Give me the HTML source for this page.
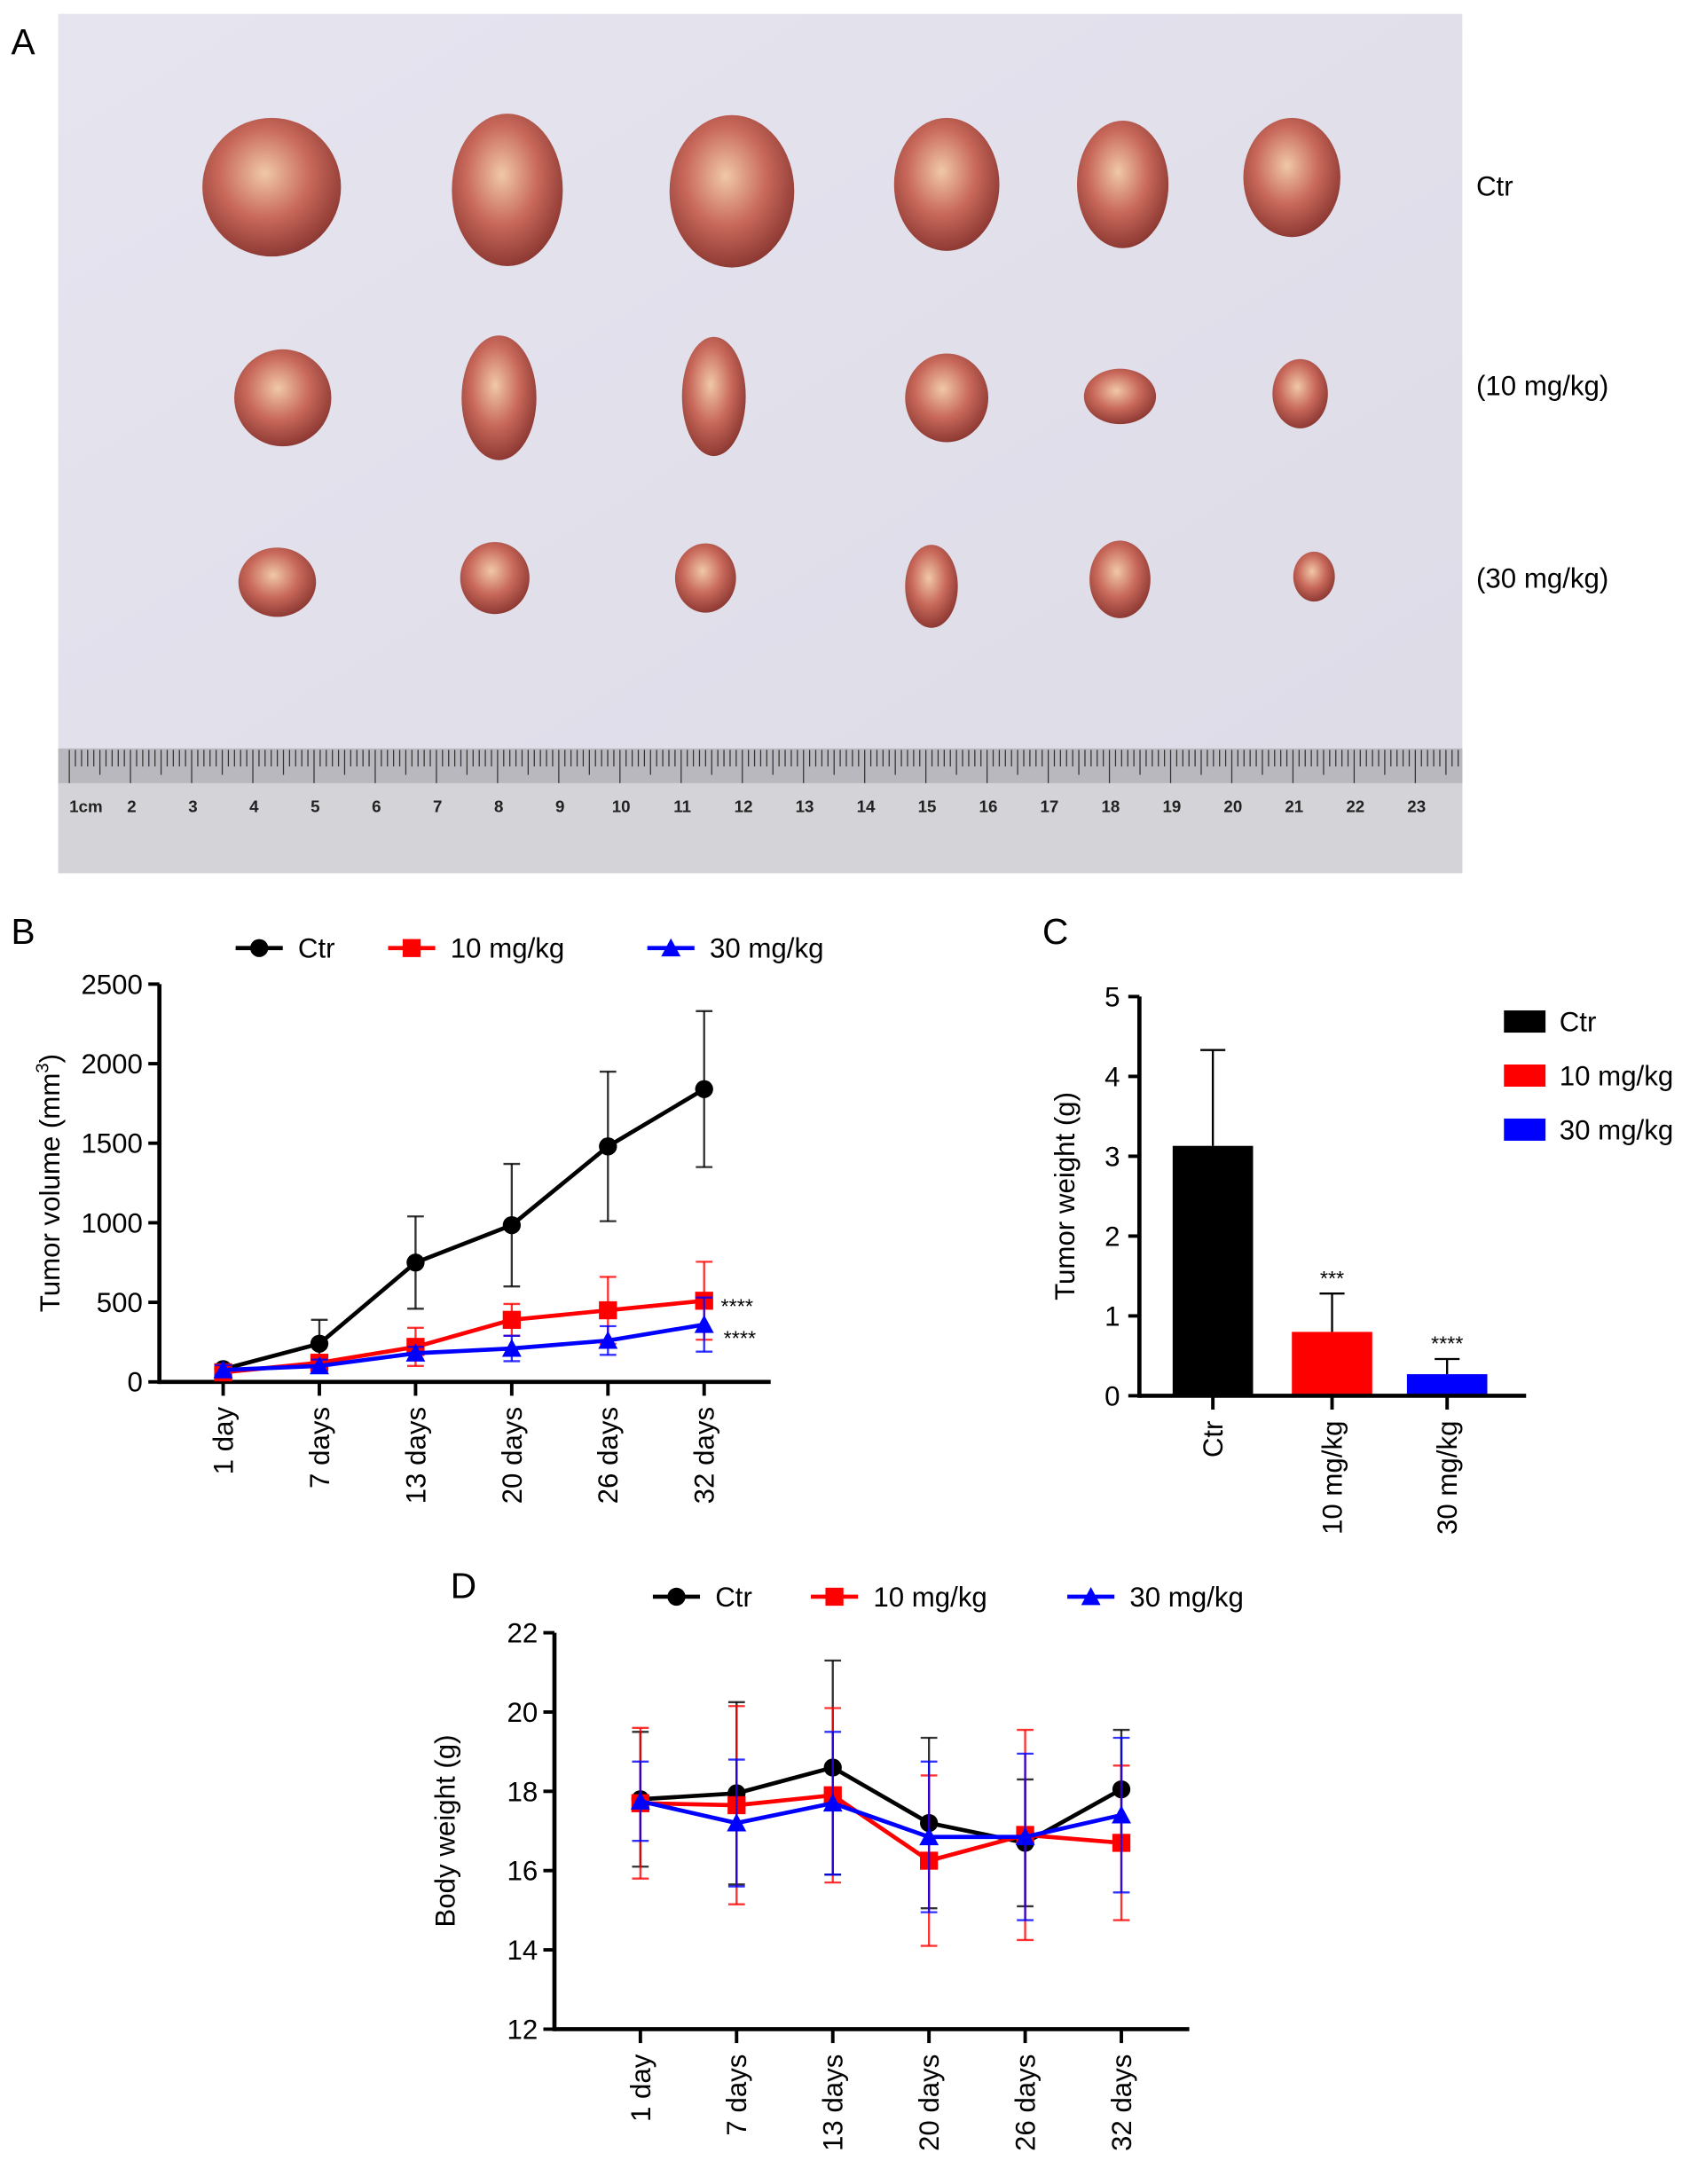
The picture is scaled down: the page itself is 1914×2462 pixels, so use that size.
<!DOCTYPE html>
<html><head><meta charset="utf-8"><style>
html,body{margin:0;padding:0;background:#fff;}
svg{display:block;font-family:"Liberation Sans",Arial,sans-serif;}
</style></head><body>
<svg id="fig" width="1914" height="2462" viewBox="0 0 1225 1575.7" xmlns="http://www.w3.org/2000/svg">
<defs>
<radialGradient id="tum" cx="45%" cy="40%" r="60%">
<stop offset="0" stop-color="#f0c8a8"/><stop offset="0.55" stop-color="#c8685a"/><stop offset="1" stop-color="#8e3a34"/>
</radialGradient>
<linearGradient id="bgA" x1="0" y1="0" x2="1" y2="1"><stop offset="0" stop-color="#e6e4ef"/><stop offset="1" stop-color="#dcdbe6"/></linearGradient>
</defs>
<g id="panelA">
<rect x="42" y="10" width="1013" height="620" fill="url(#bgA)"/>
<g id="tumors"></g>
<rect x="42" y="540" width="1013" height="90" fill="#d4d4d8"/>
<rect x="42" y="540" width="1013" height="25" fill="#b8b8be"/>
<g id="ruler"></g>
<text x="1065" y="141" font-size="20">Ctr</text>
<text x="1065" y="285" font-size="20">(10 mg/kg)</text>
<text x="1065" y="424" font-size="20">(30 mg/kg)</text>
</g>
<text x="8" y="39" font-size="26">A</text>
<text x="8" y="681" font-size="26">B</text>
<text x="752" y="681" font-size="26">C</text>
<text x="325" y="1153" font-size="26">D</text>
<g id="chartB"></g>
<g id="chartC"></g>
<g id="chartD"></g>
</svg>
<script>
// ---- data ----
const days = ["1 day","7 days","13 days","20 days","26 days","32 days"];
const volCtr = [80,240,750,985,1480,1840];
const volCtrErr = [30,150,290,385,470,490];
const vol10 = [60,120,220,390,450,510];
const vol10Err = [30,50,120,100,210,245];
const vol30 = [75,100,180,210,260,360];
const vol30Err = [30,40,40,80,90,170];
const volTicks = [0,500,1000,1500,2000,2500];
const sigB = ["****","****"];
const groups = ["Ctr","10 mg/kg","30 mg/kg"];
const weightVals = [3.13,0.8,0.27];
const weightErr = [1.2,0.48,0.19];
const weightTicks = [0,1,2,3,4,5];
const weightSig = ["","***","****"];
const bwCtr = [17.8,17.95,18.6,17.2,16.7,18.05];
const bwCtrErr = [1.7,2.3,2.7,2.15,1.6,1.5];
const bw10 = [17.7,17.65,17.9,16.25,16.9,16.7];
const bw10Err = [1.9,2.5,2.2,2.15,2.65,1.95];
const bw30 = [17.75,17.2,17.7,16.85,16.85,17.4];
const bw30Err = [1.0,1.6,1.8,1.9,2.1,1.95];
const bwTicks = [12,14,16,18,20,22];

const NS="http://www.w3.org/2000/svg";
function mk(p,tag,at,txt){const e=document.createElementNS(NS,tag);for(const k in at)e.setAttribute(k,at[k]);if(txt!==undefined)e.textContent=txt;p.appendChild(e);return e;}
const COL={Ctr:"#000","10":"#ff0000","30":"#0000ff"};

// ---- photo tumors ----
const tg=document.getElementById('tumors');
const tum=[[196,135,50,50],[366,137,40,55],[528,138,45,55],[683,133,38,48],[810,133,33,46],[932,128,35,43],
[204,287,35,35],[360,287,27,45],[515,286,23,43],[683,287,30,32],[808,286,26,20],[938,284,20,25],
[200,420,28,25],[357,417,25,26],[509,417,22,25],[672,423,19,30],[808,418,22,28],[948,416,15,18]];
tum.forEach(t=>{const e=mk(tg,'ellipse',{cx:t[0],cy:t[1],rx:t[2],ry:t[3],fill:'url(#tum)'});

});
const rg=document.getElementById('ruler');
for(let i=0;i<=230;i++){const x=50+i*4.414;if(x>1052)break;const h=i%10==0?24:(i%5==0?18:12);mk(rg,'line',{x1:x,y1:541,x2:x,y2:541+h,stroke:'#333','stroke-width':0.8});}
for(let n=1;n<=23;n++){const x=n==1?62:95+(n-2)*44.14;mk(rg,'text',{x:x,y:586,'font-size':12,'text-anchor':'middle',fill:'#222','font-weight':'bold'},n==1?'1cm':String(n));}

// ---- generic line chart ----
function lineChart(g,o){
 const y=v=>o.y0-(v-o.vmin)/(o.vmax-o.vmin)*(o.y0-o.y1);
 const x=i=>o.xs0+i*o.dx;
 mk(g,'line',{x1:o.ax,y1:o.y1,x2:o.ax,y2:o.y0+1.5,stroke:'#000','stroke-width':3});
 mk(g,'line',{x1:o.ax,y1:o.y0,x2:o.axEnd,y2:o.y0,stroke:'#000','stroke-width':3});
 o.ticks.forEach(t=>{mk(g,'line',{x1:o.ax-8,y1:y(t),x2:o.ax,y2:y(t),stroke:'#000','stroke-width':2.5});
  const tl=mk(g,'text',{x:o.ax-12,y:y(t)+7,'font-size':20,'text-anchor':'end'},String(t));
  
  });
 days.forEach((d,i)=>{mk(g,'line',{x1:x(i),y1:o.y0,x2:x(i),y2:o.y0+10,stroke:'#000','stroke-width':2.5});
  const tl=mk(g,'text',{x:0,y:0,'font-size':20,'text-anchor':'end',transform:`translate(${x(i)+7},${o.y0+18}) rotate(-90)`},d);
  
  });
 const yt=mk(g,'text',{x:0,y:0,'font-size':20,'text-anchor':'middle',transform:`translate(${o.ax-72},${(o.y0+o.y1)/2}) rotate(-90)`});
 
 
 yt.innerHTML=o.title;
 o.series.forEach(s=>{
  const sg=mk(g,'g',{});
  
  
  s.v.forEach((v,i)=>{const a=y(v+s.e[i]),b=y(v-s.e[i]);
   mk(sg,'line',{x1:x(i),y1:a,x2:x(i),y2:b,stroke:s.c,'stroke-width':1.5,opacity:0.8});
   mk(sg,'line',{x1:x(i)-6,y1:a,x2:x(i)+6,y2:a,stroke:s.c,'stroke-width':1.5,opacity:0.8});
   mk(sg,'line',{x1:x(i)-6,y1:b,x2:x(i)+6,y2:b,stroke:s.c,'stroke-width':1.5,opacity:0.8});});
  mk(sg,'polyline',{points:s.v.map((v,i)=>x(i)+','+y(v)).join(' '),fill:'none',stroke:s.c,'stroke-width':3});
  s.v.forEach((v,i)=>{const m=marker(sg,s.shape,x(i),y(v),s.c);
   
   });
 });
 return {x,y};
}
function marker(g,shape,cx,cy,c){
 if(shape=='c')return mk(g,'circle',{cx:cx,cy:cy,r:6.5,fill:c});
 if(shape=='s')return mk(g,'rect',{x:cx-6.5,y:cy-6.5,width:13,height:13,fill:c});
 return mk(g,'polygon',{points:`${cx},${cy-7} ${cx-7},${cy+6} ${cx+7},${cy+6}`,fill:c});
}
function legend(g,items,y){
 items.forEach(it=>{const lg=mk(g,'g',{});
  
  
  mk(lg,'line',{x1:it.x-17,y1:y,x2:it.x+17,y2:y,stroke:it.c,'stroke-width':3});
  marker(lg,it.shape,it.x,y,it.c);
  mk(lg,'text',{x:it.x+28,y:y+7,'font-size':20},it.t);});
}

// ---- B ----
const gB=document.getElementById('chartB');
const B=lineChart(gB,{y0:997,y1:710,vmin:0,vmax:2500,ax:115,axEnd:556,xs0:161,dx:69.4,ticks:volTicks,
 title:'Tumor volume (mm<tspan dy="-8" font-size="13">3</tspan><tspan dy="8">)</tspan>',
 series:[{key:'ctr',v:volCtr,e:volCtrErr,c:'#000',shape:'c'},{key:'10mg',v:vol10,e:vol10Err,c:'#ff0000',shape:'s'},{key:'30mg',v:vol30,e:vol30Err,c:'#0000ff',shape:'t'}]});
mk(gB,'text',{x:520,y:B.y(vol10[5])+9,'font-size':15},sigB[0]);
mk(gB,'text',{x:522,y:B.y(vol30[5])+15,'font-size':15},sigB[1]);
legend(gB,[{x:187,c:'#000',shape:'c',t:'Ctr'},{x:297,c:'#ff0000',shape:'s',t:'10 mg/kg'},{x:484,c:'#0000ff',shape:'t',t:'30 mg/kg'}],684);

// ---- C ----
const gC=document.getElementById('chartC');
(function(){
 const y0=1007,y1=719,ax=822,vmax=5;const y=v=>y0-v/vmax*(y0-y1);
 const bx=[875,961,1044],cols=['#000','#ff0000','#0000ff'];
 weightVals.forEach((v,i)=>{
  const e=weightErr[i];
  mk(gC,'line',{x1:bx[i],y1:y(v+e),x2:bx[i],y2:y(v),stroke:'#000','stroke-width':1.5});
  mk(gC,'line',{x1:bx[i]-9,y1:y(v+e),x2:bx[i]+9,y2:y(v+e),stroke:'#000','stroke-width':1.5});
  const r=mk(gC,'rect',{x:bx[i]-29,y:y(v),width:58,height:y0-y(v),fill:cols[i]});
  
  
  if(weightSig[i])mk(gC,'text',{x:bx[i],y:y(v+e)-6,'font-size':15,'text-anchor':'middle'},weightSig[i]);
  mk(gC,'line',{x1:bx[i],y1:y0,x2:bx[i],y2:y0+10,stroke:'#000','stroke-width':2.5});
  mk(gC,'text',{x:0,y:0,'font-size':20,'text-anchor':'end',transform:`translate(${bx[i]+7},${y0+18}) rotate(-90)`},groups[i]);
 });
 mk(gC,'line',{x1:ax,y1:y1,x2:ax,y2:y0+1.5,stroke:'#000','stroke-width':3});
 mk(gC,'line',{x1:ax,y1:y0,x2:1101,y2:y0,stroke:'#000','stroke-width':3});
 weightTicks.forEach(t=>{mk(gC,'line',{x1:ax-8,y1:y(t),x2:ax,y2:y(t),stroke:'#000','stroke-width':2.5});
  mk(gC,'text',{x:ax-14,y:y(t)+7,'font-size':20,'text-anchor':'end'},String(t));});
 const yt=mk(gC,'text',{x:0,y:0,'font-size':20,'text-anchor':'middle',transform:`translate(775,${(y0+y1)/2}) rotate(-90)`},'Tumor weight (g)');
 
 
 groups.forEach((gname,i)=>{const lg=mk(gC,'g',{});
  
  
  mk(lg,'rect',{x:1085,y:729+i*39,width:30,height:16,fill:cols[i]});
  mk(lg,'text',{x:1125,y:744+i*39,'font-size':20},gname);});
})();

// ---- D ----
const gD=document.getElementById('chartD');
lineChart(gD,{y0:1464,y1:1178,vmin:12,vmax:22,ax:400,axEnd:858,xs0:462,dx:69.4,ticks:bwTicks,title:'Body weight (g)',
 series:[{key:'ctr',v:bwCtr,e:bwCtrErr,c:'#000',shape:'c'},{key:'10mg',v:bw10,e:bw10Err,c:'#ff0000',shape:'s'},{key:'30mg',v:bw30,e:bw30Err,c:'#0000ff',shape:'t'}]});
legend(gD,[{x:488,c:'#000',shape:'c',t:'Ctr'},{x:602,c:'#ff0000',shape:'s',t:'10 mg/kg'},{x:787,c:'#0000ff',shape:'t',t:'30 mg/kg'}],1152);
</script>
</body></html>
